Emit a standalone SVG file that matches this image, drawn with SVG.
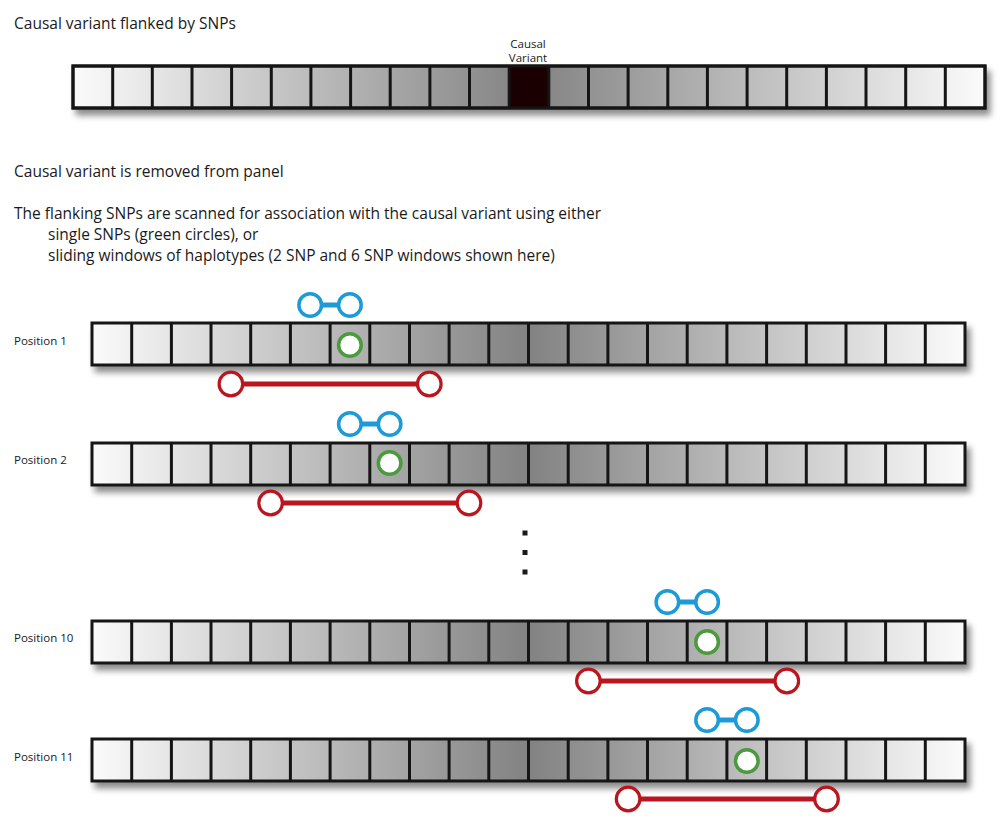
<svg xmlns="http://www.w3.org/2000/svg" xmlns:xlink="http://www.w3.org/1999/xlink" width="1000" height="824" viewBox="0 0 1000 824">
<style>
text{font-family:"Open Sans","Noto Sans","Liberation Sans",sans-serif;fill:#1a1a1a}
.h{font-size:15.5px}
.lbl{font-size:11.5px}
.cv{font-size:11.5px;text-anchor:middle}
.bar{stroke:#151515;stroke-width:3}
.sep{stroke:#151515;stroke-width:3}
.blue{fill:#fff;stroke:#1d9ad8;stroke-width:3.5}
.bluel{stroke:#1d9ad8;stroke-width:5}
.green{fill:#fff;stroke:#4b9a3e;stroke-width:3.5}
.red{fill:#fff;stroke:#b9161f;stroke-width:3.2}
.redl{stroke:#b9161f;stroke-width:5}
</style>
<defs>
<linearGradient id="g" x1="0" y1="0" x2="1" y2="0">
<stop offset="0" stop-color="#fbfbfb"/>
<stop offset="0.5" stop-color="#828282"/>
<stop offset="1" stop-color="#fbfbfb"/>
</linearGradient>
<filter id="sh" x="-5%" y="-50%" width="110%" height="220%">
<feDropShadow dx="4" dy="6" stdDeviation="3" flood-color="#000" flood-opacity="0.45"/>
</filter>
<g id="bar22">
<rect x="0" y="0" width="873" height="42" fill="url(#g)" class="bar" filter="url(#sh)"/>
<path class="sep" d="M39.7 0V42M79.4 0V42M119 0V42M158.7 0V42M198.4 0V42M238.1 0V42M277.8 0V42M317.5 0V42M357.1 0V42M396.8 0V42M436.5 0V42M476.2 0V42M515.9 0V42M555.5 0V42M595.2 0V42M634.9 0V42M674.6 0V42M714.3 0V42M754 0V42M793.6 0V42M833.3 0V42"/>
</g>
</defs>
<rect width="1000" height="824" fill="#fff"/>

<g id="title">
<text class="h" x="14" y="29">Causal variant flanked by SNPs</text>
</g>

<g id="reference-bar">
<rect x="73" y="66" width="912" height="42" fill="url(#g)" class="bar" filter="url(#sh)"/>
<rect x="509.2" y="66" width="39.6" height="42" fill="#1a0000"/>
<path class="sep" d="M112.7 66V108M152.3 66V108M192 66V108M231.6 66V108M271.3 66V108M310.9 66V108M350.6 66V108M390.2 66V108M429.9 66V108M469.5 66V108M509.2 66V108M548.8 66V108M588.5 66V108M628.1 66V108M667.8 66V108M707.4 66V108M747.1 66V108M786.7 66V108M826.4 66V108M866 66V108M905.7 66V108M945.3 66V108"/>
<rect x="73" y="66" width="912" height="42" fill="none" class="bar"/>
<text class="cv" x="528" y="48">Causal</text>
<text class="cv" x="528" y="62">Variant</text>
</g>

<g id="description">
<text class="h" x="14" y="177">Causal variant is removed from panel</text>
<text class="h" x="14" y="219">The flanking SNPs are scanned for association with the causal variant using either</text>
<text class="h" x="48" y="240">single SNPs (green circles), or</text>
<text class="h" x="48" y="261">sliding windows of haplotypes (2 SNP and 6 SNP windows shown here)</text>
</g>

<g id="position-1">
<text class="lbl" x="14" y="345">Position 1</text>
<use xlink:href="#bar22" href="#bar22" x="92" y="323"/>
</g>
<g id="position-2">
<text class="lbl" x="14" y="464">Position 2</text>
<use xlink:href="#bar22" href="#bar22" x="92" y="443"/>
</g>
<g id="ellipsis" fill="#1a1a1a">
<rect x="522.5" y="530.5" width="5" height="5"/>
<rect x="522.5" y="550" width="5" height="5"/>
<rect x="522.5" y="569.5" width="5" height="5"/>
</g>
<g id="position-10">
<text class="lbl" x="14" y="642">Position 10</text>
<use xlink:href="#bar22" href="#bar22" x="92" y="621"/>
</g>
<g id="position-11">
<text class="lbl" x="14" y="761">Position 11</text>
<use xlink:href="#bar22" href="#bar22" x="92" y="739"/>
</g>

<g id="connectors">
<line class="bluel" x1="310.2" y1="305" x2="349.9" y2="305"/>
<line class="redl" x1="230.9" y1="384" x2="429.3" y2="384"/>
<line class="bluel" x1="349.9" y1="424" x2="389.6" y2="424"/>
<line class="redl" x1="270.6" y1="503" x2="469" y2="503"/>
<line class="bluel" x1="667.4" y1="602" x2="707.1" y2="602"/>
<line class="redl" x1="588.4" y1="681" x2="786.8" y2="681"/>
<line class="bluel" x1="707.1" y1="720" x2="746.8" y2="720"/>
<line class="redl" x1="628.1" y1="799" x2="826.5" y2="799"/>
</g>

<g id="snps-1">
<circle class="blue" cx="310.2" cy="305" r="11.3"/>
<circle class="blue" cx="349.9" cy="305" r="11.3"/>
<circle class="green" cx="349.9" cy="345" r="11.3"/>
<circle class="red" cx="230.9" cy="384" r="11.8"/>
<circle class="red" cx="429.3" cy="384" r="11.8"/>
</g>
<g id="snps-2">
<circle class="blue" cx="349.9" cy="424" r="11.3"/>
<circle class="blue" cx="389.6" cy="424" r="11.3"/>
<circle class="green" cx="389.6" cy="463" r="11.3"/>
<circle class="red" cx="270.6" cy="503" r="11.8"/>
<circle class="red" cx="469" cy="503" r="11.8"/>
</g>
<g id="snps-10">
<circle class="blue" cx="667.4" cy="602" r="11.3"/>
<circle class="blue" cx="707.1" cy="602" r="11.3"/>
<circle class="green" cx="707.1" cy="642" r="11.3"/>
<circle class="red" cx="588.4" cy="681" r="11.8"/>
<circle class="red" cx="786.8" cy="681" r="11.8"/>
</g>
<g id="snps-11">
<circle class="blue" cx="707.1" cy="720" r="11.3"/>
<circle class="blue" cx="746.8" cy="720" r="11.3"/>
<circle class="green" cx="746.8" cy="761" r="11.3"/>
<circle class="red" cx="628.1" cy="799" r="11.8"/>
<circle class="red" cx="826.5" cy="799" r="11.8"/>
</g>
</svg>
